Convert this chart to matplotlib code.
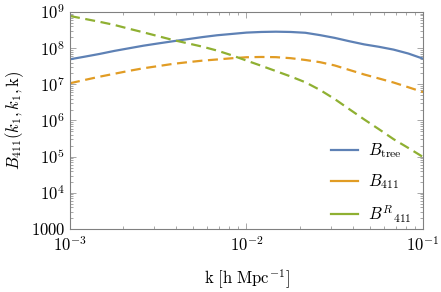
import matplotlib
matplotlib.use('Agg')
from matplotlib import pyplot as plt
from matplotlib.ticker import FixedLocator, LogLocator, NullFormatter

plt.rcParams['mathtext.fontset'] = 'cm'
plt.rcParams['font.family'] = 'serif'
plt.rcParams['font.serif'] = ['DejaVu Serif']

# k grid [h/Mpc]
k = [1.000e-3, 1.212e-3, 1.468e-3, 1.778e-3, 2.154e-3, 2.610e-3, 3.162e-3,
     3.831e-3, 4.642e-3, 5.623e-3, 6.813e-3, 8.254e-3, 1.000e-2, 1.212e-2,
     1.468e-2, 1.778e-2, 2.154e-2, 2.610e-2, 3.162e-2, 3.831e-2, 4.642e-2,
     5.623e-2, 6.813e-2, 8.254e-2, 1.000e-1]

# bispectra
b_tree = [4.92e7, 5.81e7, 6.90e7, 8.36e7, 9.9e7, 1.17e8, 1.35e8, 1.55e8,
          1.77e8, 2.02e8, 2.27e8, 2.47e8, 2.69e8, 2.80e8, 2.85e8, 2.80e8,
          2.66e8, 2.29e8, 1.92e8, 1.55e8, 1.27e8, 1.09e8, 9.1e7, 7.1e7, 5.12e7]
b_411 = [1.07e7, 1.32e7, 1.62e7, 1.95e7, 2.35e7, 2.78e7, 3.19e7, 3.67e7,
         4.09e7, 4.51e7, 4.86e7, 5.25e7, 5.60e7, 5.70e7, 5.63e7, 5.28e7,
         4.71e7, 4.09e7, 3.32e7, 2.49e7, 1.87e7, 1.45e7, 1.12e7, 8.3e6, 6.1e6]
b_411_r = [7.74e8, 6.44e8, 5.36e8, 4.40e8, 3.45e8, 2.73e8, 2.14e8, 1.68e8,
           1.36e8, 1.10e8, 8.57e7, 6.35e7, 4.53e7, 3.26e7, 2.32e7, 1.65e7,
           1.14e7, 6.98e6, 3.91e6, 2.04e6, 1.07e6, 5.75e5, 3.04e5, 1.74e5, 9.8e4]

y_ticks = [1e3, 1e4, 1e5, 1e6, 1e7, 1e8, 1e9]
y_ticklabels = ['$1000$', '$10^4$', '$10^5$', '$10^6$', '$10^7$', '$10^8$', '$10^9$']
x_ticks = [1e-3, 1e-2, 1e-1]
x_ticklabels = ['$10^{-3}$', '$10^{-2}$', '$10^{-1}$']

blue = '#5e81b5'
orange = '#e19c24'
green = '#8fb032'

fig = plt.figure(figsize=(4.41, 2.92), dpi=100)
ax = fig.add_axes([0.1587, 0.2158, 0.8005, 0.7432])

dash = (0, (4.5, 2.5))
ax.plot(k, b_tree, color=blue, lw=1.6, label=r'$B_{\mathrm{tree}}$')
ax.plot(k, b_411, color=orange, lw=1.6, ls=dash, label=r'$B_{411}$')
ax.plot(k, b_411_r, color=green, lw=1.6, ls=dash, label=r'$B^{R}{}_{411}$')

ax.set_xscale('log')
ax.set_yscale('log')
ax.set_xlim(1e-3, 1e-1)
ax.set_ylim(1e3, 1e9)

ax.xaxis.set_major_locator(FixedLocator(x_ticks))
ax.set_xticklabels(x_ticklabels)
ax.yaxis.set_major_locator(FixedLocator(y_ticks))
ax.set_yticklabels(y_ticklabels)
ax.xaxis.set_minor_locator(LogLocator(base=10, subs=range(2, 10)))
ax.yaxis.set_minor_locator(LogLocator(base=10, subs=range(2, 10), numticks=20))
ax.xaxis.set_minor_formatter(NullFormatter())
ax.yaxis.set_minor_formatter(NullFormatter())

for s in ax.spines.values():
    s.set_color('#808080')
    s.set_linewidth(0.8)
ax.tick_params(which='both', direction='in', top=True, right=True,
               color='#999999', labelsize=12, width=0.6)
ax.tick_params(which='major', length=4)
ax.tick_params(which='minor', length=2)
ax.tick_params(axis='x', which='major', pad=5)

ax.set_xlabel(r'$\mathrm{k\ [h\ Mpc^{-1}]}$', fontsize=12, labelpad=9)
ax.set_ylabel(r'$B_{411}(k_1,k_1,\mathrm{k})$', fontsize=12)
ax.yaxis.set_label_coords(-0.125, 0.5)

leg = ax.legend(loc='lower right', bbox_to_anchor=(1.0, -0.035), frameon=False,
                fontsize=12, handlelength=1.6, handletextpad=0.6,
                labelspacing=0.72, borderaxespad=0.3)
for h in leg.get_lines():
    h.set_linestyle('-')

fig.savefig('out.png', dpi=100)
